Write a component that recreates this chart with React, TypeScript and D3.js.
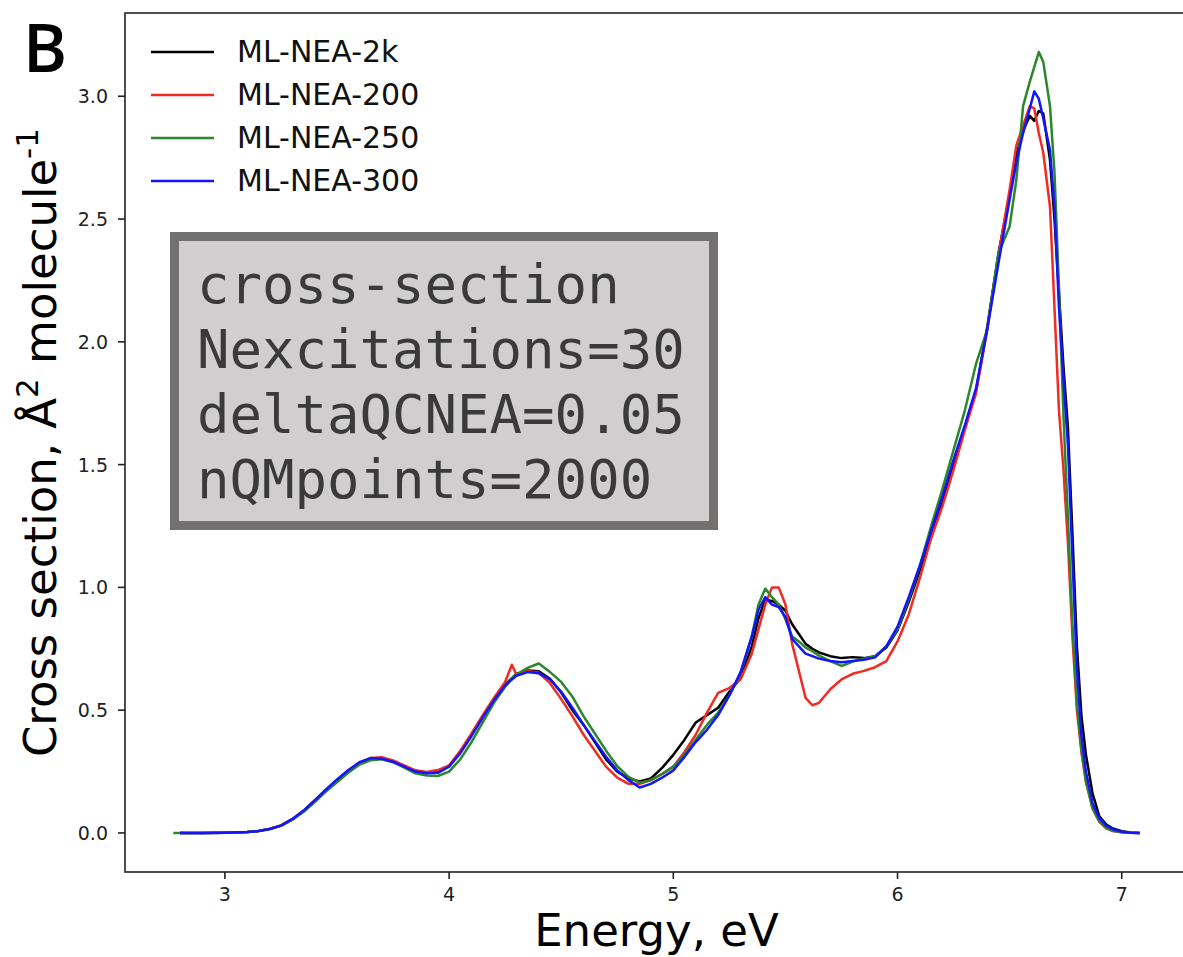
import React from "react";
import * as d3 from "d3";

const energies = [2.77, 2.8, 2.9, 3.0, 3.1, 3.15, 3.2, 3.25, 3.3, 3.35, 3.4, 3.45, 3.5, 3.55, 3.6, 3.65, 3.7, 3.75, 3.8, 3.85, 3.9, 3.95, 4.0, 4.05, 4.1, 4.15, 4.2, 4.25, 4.28, 4.3, 4.35, 4.4, 4.45, 4.5, 4.55, 4.6, 4.65, 4.7, 4.75, 4.8, 4.85, 4.9, 4.95, 5.0, 5.05, 5.1, 5.15, 5.2, 5.25, 5.3, 5.35, 5.38, 5.41, 5.44, 5.47, 5.5, 5.53, 5.56, 5.59, 5.62, 5.65, 5.7, 5.75, 5.8, 5.85, 5.9, 5.95, 6.0, 6.05, 6.1, 6.15, 6.2, 6.25, 6.3, 6.35, 6.4, 6.45, 6.5, 6.53, 6.56, 6.59, 6.61, 6.63, 6.65, 6.68, 6.7, 6.72, 6.74, 6.76, 6.78, 6.8, 6.82, 6.84, 6.87, 6.9, 6.93, 6.96, 7.0, 7.04, 7.08];

const ml2k = [null, 0, 0, 0.001, 0.004, 0.008, 0.016, 0.03, 0.055, 0.088, 0.13, 0.172, 0.212, 0.252, 0.283, 0.302, 0.304, 0.292, 0.272, 0.252, 0.245, 0.25, 0.272, 0.33, 0.4, 0.475, 0.545, 0.605, 0.63, 0.648, 0.662, 0.658, 0.628, 0.572, 0.5, 0.44, 0.37, 0.3, 0.25, 0.222, 0.21, 0.222, 0.265, 0.318, 0.38, 0.45, 0.48, 0.51, 0.575, 0.63, 0.76, 0.875, 0.95, 0.945, 0.93, 0.905, 0.85, 0.81, 0.77, 0.75, 0.735, 0.72, 0.712, 0.716, 0.712, 0.72, 0.755, 0.825, 0.94, 1.07, 1.21, 1.35, 1.5, 1.65, 1.8, 2.06, 2.36, 2.6, 2.76, 2.86, 2.92, 2.9, 2.94, 2.93, 2.74, 2.5, 2.2, 1.9, 1.65, 1.22, 0.76, 0.48, 0.32, 0.16, 0.068, 0.035, 0.018, 0.007, 0.002, 0];

const ml200 = [null, 0, 0, 0.001, 0.004, 0.008, 0.017, 0.031, 0.056, 0.09, 0.132, 0.175, 0.215, 0.255, 0.285, 0.305, 0.308, 0.295, 0.275, 0.255, 0.248, 0.256, 0.275, 0.335, 0.405, 0.48, 0.55, 0.615, 0.685, 0.645, 0.66, 0.652, 0.61, 0.545, 0.475, 0.4, 0.335, 0.27, 0.225, 0.2, 0.2, 0.215, 0.24, 0.27, 0.33, 0.4, 0.49, 0.57, 0.59, 0.625, 0.73, 0.83, 0.93, 1.0, 1.0, 0.93, 0.77, 0.66, 0.55, 0.52, 0.53, 0.585, 0.625, 0.648, 0.66, 0.675, 0.7, 0.78, 0.89, 1.04, 1.2, 1.33, 1.48, 1.64, 1.79, 2.05, 2.35, 2.62, 2.8, 2.88, 2.96, 2.95, 2.85, 2.77, 2.55, 2.14, 1.72, 1.48, 1.18, 0.8, 0.5, 0.33, 0.21, 0.1, 0.045, 0.02, 0.008, 0.003, 0.001, 0];

const ml250 = [0, 0, 0, 0.001, 0.004, 0.008, 0.016, 0.029, 0.053, 0.085, 0.125, 0.168, 0.206, 0.245, 0.278, 0.296, 0.3, 0.288, 0.266, 0.243, 0.234, 0.232, 0.25, 0.3, 0.37, 0.45, 0.53, 0.595, 0.63, 0.645, 0.672, 0.69, 0.655, 0.615, 0.555, 0.475, 0.405, 0.335, 0.272, 0.228, 0.205, 0.215, 0.24, 0.27, 0.32, 0.38, 0.44, 0.49, 0.56, 0.65, 0.8, 0.93, 0.995, 0.96, 0.93, 0.87, 0.8, 0.78, 0.755, 0.74, 0.722, 0.7, 0.68, 0.698, 0.71, 0.72, 0.76, 0.83, 0.95, 1.09, 1.25, 1.4, 1.56, 1.72, 1.91, 2.05, 2.36, 2.47, 2.66, 2.96, 3.06, 3.12, 3.18, 3.14, 2.96, 2.69, 2.22, 1.7, 1.28, 0.85, 0.53, 0.34, 0.21, 0.1, 0.048, 0.02, 0.009, 0.003, 0.001, 0];

const ml300 = [null, 0, 0, 0.001, 0.004, 0.008, 0.016, 0.03, 0.056, 0.09, 0.132, 0.176, 0.218, 0.255, 0.288, 0.305, 0.302, 0.29, 0.27, 0.25, 0.243, 0.245, 0.27, 0.325, 0.395, 0.47, 0.54, 0.6, 0.625, 0.64, 0.655, 0.65, 0.625, 0.575, 0.51, 0.44, 0.375, 0.31, 0.255, 0.215, 0.185, 0.2, 0.225, 0.255, 0.31, 0.37, 0.42, 0.48, 0.56, 0.655, 0.8, 0.91, 0.96, 0.93, 0.92, 0.88, 0.79, 0.76, 0.73, 0.72, 0.71, 0.7, 0.695, 0.7, 0.705, 0.715, 0.76, 0.84, 0.96, 1.09, 1.23, 1.37, 1.52, 1.66, 1.81, 2.05, 2.32, 2.58, 2.73, 2.85, 2.95, 3.02, 2.99, 2.91, 2.78, 2.55, 2.14, 1.85, 1.58, 1.12, 0.67, 0.4, 0.25, 0.12, 0.06, 0.03, 0.015, 0.005, 0.001, 0];

const seriesNames = ["ML-NEA-2k", "ML-NEA-200", "ML-NEA-250", "ML-NEA-300"];
const seriesValues = [ml2k, ml200, ml250, ml300];
const seriesColors = ["#000000", "#f02a24", "#2a882a", "#1414ff"];

const xTicks = [3, 4, 5, 6, 7];
const yTicks = [0, 0.5, 1.0, 1.5, 2.0, 2.5, 3.0];
const boxLines = ["cross-section", "Nexcitations=30", "deltaQCNEA=0.05", "nQMpoints=2000"];

const W = 1183;
const H = 957;
const left = 125;
const right = 1188;
const top = 13;
const bottom = 872;

export default function App() {
  const x = d3.scaleLinear().domain([2.5545, 7.2955]).range([left, right]);
  const y = d3.scaleLinear().domain([-0.159, 3.339]).range([bottom, top]);

  const line = d3
    .line<number | null>()
    .defined((d) => d !== null)
    .x((_, i) => x(energies[i]))
    .y((d) => y(d as number))
    .curve(d3.curveLinear);

  const font = "'DejaVu Sans', sans-serif";

  return (
    <svg
      width={W}
      height={H}
      style={{ position: "absolute", left: 0, top: 0, background: "#fff" }}
    >
      <rect x={0} y={0} width={W} height={H} fill="#fff" />
      <defs>
        <clipPath id="plotclip">
          <rect x={left} y={top} width={right - left} height={bottom - top} />
        </clipPath>
      </defs>

      {/* curves */}
      <g clipPath="url(#plotclip)">
        {seriesValues.map((vals, i) => (
          <path
            key={i}
            d={line(vals as (number | null)[]) || ""}
            fill="none"
            stroke={seriesColors[i]}
            strokeWidth={2.5}
            strokeLinejoin="round"
          />
        ))}
      </g>

      {/* spines */}
      <rect
        x={left}
        y={top}
        width={right - left}
        height={bottom - top}
        fill="none"
        stroke="#222"
        strokeWidth={1.6}
      />

      {/* x ticks */}
      {xTicks.map((t) => (
        <g key={t}>
          <line x1={x(t)} x2={x(t)} y1={bottom} y2={bottom + 7} stroke="#222" strokeWidth={1.6} />
          <text
            x={x(t)}
            y={bottom + 29}
            textAnchor="middle"
            fontFamily={font}
            fontSize={19}
            fill="#222"
          >
            {t}
          </text>
        </g>
      ))}

      {/* y ticks */}
      {yTicks.map((t) => (
        <g key={t}>
          <line x1={left - 7} x2={left} y1={y(t)} y2={y(t)} stroke="#222" strokeWidth={1.6} />
          <text
            x={left - 17}
            y={y(t) + 7}
            textAnchor="end"
            fontFamily={font}
            fontSize={19}
            fill="#222"
          >
            {d3.format(".1f")(t)}
          </text>
        </g>
      ))}

      {/* axis labels */}
      <text
        x={(left + right) / 2}
        y={946}
        textAnchor="middle"
        fontFamily={font}
        fontSize={45}
        fill="#000"
      >
        Energy, eV
      </text>
      <text
        transform={`translate(56, ${(top + bottom) / 2}) rotate(-90)`}
        textAnchor="middle"
        fontFamily={font}
        fontSize={45}
        fill="#000"
      >
        Cross section, Å
        <tspan fontSize={31} dy={-18}>2</tspan>
        <tspan dy={18}> molecule</tspan>
        <tspan fontSize={31} dy={-18}>-1</tspan>
      </text>

      {/* panel letter */}
      <text x={23} y={71.5} fontFamily="'Open Sans', 'DejaVu Sans', sans-serif" fontWeight={600} fontSize={67} fill="#000">
        B
      </text>

      {/* legend */}
      {seriesNames.map((name, i) => {
        const ly = 52 + i * 43;
        return (
          <g key={name}>
            <line x1={151} x2={214} y1={ly} y2={ly} stroke={seriesColors[i]} strokeWidth={2.5} />
            <text x={237} y={ly + 10} fontFamily={font} fontSize={30} fill="#111">
              {name}
            </text>
          </g>
        );
      })}

      {/* annotation box */}
      <rect
        x={174.5}
        y={236.5}
        width={539}
        height={289}
        fill="#d1cecf"
        stroke="#737070"
        strokeWidth={9}
      />
      {boxLines.map((s, i) => (
        <text
          key={s}
          x={197}
          y={303 + i * 65}
          fontFamily="'DejaVu Sans Mono', monospace"
          fontSize={54}
          fill="#3a3a3a"
        >
          {s}
        </text>
      ))}
    </svg>
  );
}
